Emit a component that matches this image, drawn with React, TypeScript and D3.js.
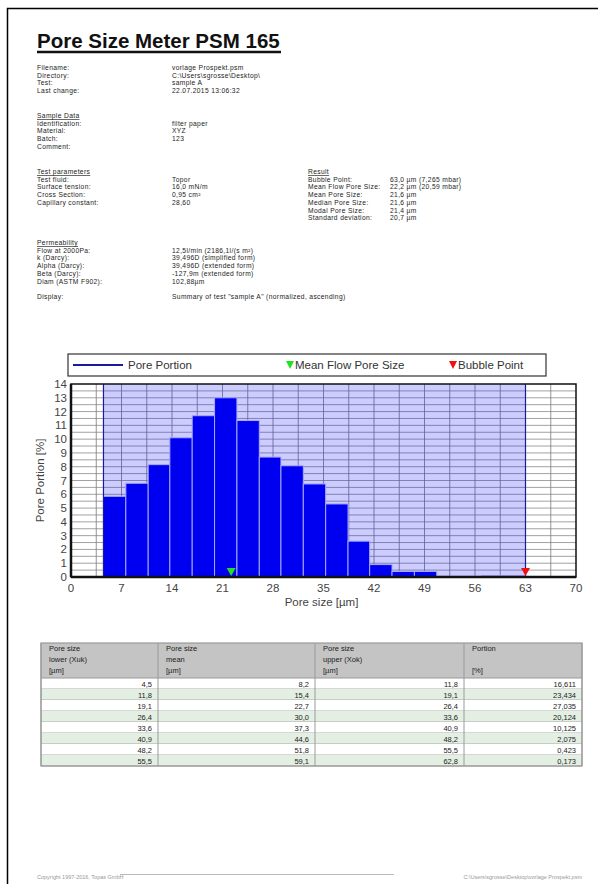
import React, { useEffect, useRef } from "react";
import * as d3 from "d3";

// header info (label / value)
const fileLabels = ["Filename:", "Directory:", "Test:", "Last change:"];
const fileValues = ["vorlage Prospekt.psm", "C:\\Users\\sgrosse\\Desktop\\", "sample A", "22.07.2015 13:06:32"];
const sampleLabels = ["Identification:", "Material:", "Batch:", "Comment:"];
const sampleValues = ["filter paper", "XYZ", "123", ""];
const paramLabels = ["Test fluid:", "Surface tension:", "Cross Section:", "Capillary constant:"];
const paramValues = ["Topor", "16,0 mN/m", "0,95 cm²", "28,60"];
const resultLabels = ["Bubble Point:", "Mean Flow Pore Size:", "Mean Pore Size:", "Median Pore Size:", "Modal Pore Size:", "Standard deviation:"];
const resultValues = ["63,0 µm (7,265 mbar)", "22,2 µm (20,59 mbar)", "21,6 µm", "21,6 µm", "21,4 µm", "20,7 µm"];
const permLabels = ["Flow at 2000Pa:", "k (Darcy):", "Alpha (Darcy):", "Beta (Darcy):", "Diam (ASTM F902):"];
const permValues = ["12,5l/min  (2186,1l/(s m²)", "39,496D (simplified form)", "39,496D (extended form)", "-127,9m (extended form)", "102,88µm"];

// histogram
const binLower = [4.5, 7.6, 10.7, 13.7, 16.8, 19.9, 23.0, 26.1, 29.1, 32.2, 35.3, 38.4, 41.4, 44.5, 47.6, 50.7, 53.8, 56.9, 59.9];
const binUpper = [7.6, 10.7, 13.7, 16.8, 19.9, 23.0, 26.1, 29.1, 32.2, 35.3, 38.4, 41.4, 44.5, 47.6, 50.7, 53.8, 56.9, 59.9, 63.0];
const portions = [5.85, 6.8, 8.15, 10.1, 11.7, 13.0, 11.35, 8.7, 8.07, 6.75, 5.3, 2.6, 0.9, 0.4, 0.4, 0.05, 0.05, 0.1, 0.1];
const xTicks = [0, 7, 14, 21, 28, 35, 42, 49, 56, 63, 70];
const yTicks = [0, 1, 2, 3, 4, 5, 6, 7, 8, 9, 10, 11, 12, 13, 14];
const meanFlowPoreSize = 22.2;
const bubblePoint = 63.0;
const poreMin = 4.5;

// table
const tableHeaders = [
  ["Pore size", "lower (Xuk)", "[µm]"],
  ["Pore size", "mean", "[µm]"],
  ["Pore size", "upper (Xok)", "[µm]"],
  ["Portion", "", "[%]"],
];
const tableLower = ["4,5", "11,8", "19,1", "26,4", "33,6", "40,9", "48,2", "55,5"];
const tableMean = ["8,2", "15,4", "22,7", "30,0", "37,3", "44,6", "51,8", "59,1"];
const tableUpper = ["11,8", "19,1", "26,4", "33,6", "40,9", "48,2", "55,5", "62,8"];
const tablePortion = ["16,611", "23,434", "27,035", "20,124", "10,125", "2,075", "0,423", "0,173"];

const FONT = "'Liberation Sans', Arial, sans-serif";

const App = () => {
  const ref = useRef<HTMLDivElement>(null);

  useEffect(() => {
    const width = 598;
    const height = 884;
    d3.select(ref.current).selectAll("*").remove();

    const svg = d3
      .select(ref.current)
      .append("svg")
      .attr("width", width)
      .attr("height", height)
      .style("position", "absolute")
      .style("left", "0px")
      .style("top", "0px")
      .style("font-family", FONT);

    svg.append("rect").attr("width", width).attr("height", height).attr("fill", "#fff");

    // page border
    svg.append("path").attr("d", "M7.5,884 V8.5 H598").attr("fill", "none").attr("stroke", "#000").attr("stroke-width", 1.5);

    // title
    svg.append("text").attr("x", 37).attr("y", 48).attr("font-size", 20.5).attr("font-weight", "bold").attr("fill", "#111")
      .text("Pore Size Meter PSM 165");
    svg.append("line").attr("x1", 37).attr("x2", 281).attr("y1", 52).attr("y2", 52).attr("stroke", "#111").attr("stroke-width", 2.5);

    // info blocks
    const LH = 7.7;
    const small = (x0: number, y0: number, t: string) =>
      svg.append("text").attr("x", x0).attr("y", y0).attr("font-size", 6.7).attr("letter-spacing", 0.35)
        .attr("fill", "#222").text(t);
    const block = (x1: number, x2: number, y0: number, labels: string[], values: string[], heading?: string) => {
      let y = y0;
      if (heading) {
        small(x1, y, heading).attr("text-decoration", "underline");
        y += LH;
      }
      labels.forEach((l, i) => {
        small(x1, y + i * LH, l);
        if (values[i]) small(x2, y + i * LH, values[i]);
      });
    };
    block(37, 172, 70, fileLabels, fileValues);
    block(37, 172, 118, sampleLabels, sampleValues, "Sample Data");
    block(37, 172, 174, paramLabels, paramValues, "Test parameters");
    block(308, 390, 174, resultLabels, resultValues, "Result");
    block(37, 172, 245, permLabels, permValues, "Permeability");
    block(37, 172, 299, ["Display:"], ['Summary of test "sample A" (normalized, ascending)']);

    // chart
    const plot = { left: 71, right: 576, top: 384, bottom: 577 };
    const x = d3.scaleLinear().domain([0, 70]).range([plot.left, plot.right]);
    const y = d3.scaleLinear().domain([0, 14]).range([plot.bottom, plot.top]);

    const grid = svg.append("g");
    grid.selectAll("line.h").data(d3.range(0.5, 14, 0.5)).join("line")
      .attr("x1", plot.left).attr("x2", plot.right).attr("y1", (d) => y(d)).attr("y2", (d) => y(d))
      .attr("stroke", "#8a8a8a").attr("stroke-width", 0.8);
    grid.selectAll("line.v").data(d3.range(3.5, 70, 3.5)).join("line")
      .attr("x1", (d) => x(d)).attr("x2", (d) => x(d)).attr("y1", plot.top).attr("y2", plot.bottom)
      .attr("stroke", "#7a7a7a").attr("stroke-width", 0.8);

    // shaded range
    svg.append("rect").attr("x", x(poreMin)).attr("y", plot.top).attr("width", x(bubblePoint) - x(poreMin))
      .attr("height", plot.bottom - plot.top).attr("fill", "#0000ff").attr("fill-opacity", 0.2);

    // bars
    svg.append("g").selectAll("rect").data(portions).join("rect")
      .attr("x", (_, i) => x(binLower[i]))
      .attr("width", (_, i) => x(binUpper[i]) - x(binLower[i]))
      .attr("y", (d) => y(d))
      .attr("height", (d) => plot.bottom - y(d))
      .attr("fill", "#0000f0")
      .attr("stroke", "#a8a8ff")
      .attr("stroke-width", 1);

    [poreMin, bubblePoint].forEach((v) => {
      svg.append("line").attr("x1", x(v)).attr("x2", x(v)).attr("y1", plot.top).attr("y2", plot.bottom)
        .attr("stroke", "#1a1a9a").attr("stroke-width", 1.2);
    });

    // frame
    svg.append("rect").attr("x", plot.left).attr("y", plot.top).attr("width", plot.right - plot.left)
      .attr("height", plot.bottom - plot.top).attr("fill", "none").attr("stroke", "#111").attr("stroke-width", 1.5);
    svg.append("line").attr("x1", plot.left).attr("x2", plot.right).attr("y1", plot.bottom).attr("y2", plot.bottom)
      .attr("stroke", "#111").attr("stroke-width", 2.5);
    svg.append("line").attr("x1", plot.left).attr("x2", plot.left).attr("y1", plot.top).attr("y2", plot.bottom)
      .attr("stroke", "#111").attr("stroke-width", 2.5);

    const tri = (cx: number, tipY: number, color: string) =>
      svg.append("path")
        .attr("d", `M${cx - 4.5},${tipY - 8} L${cx + 4.5},${tipY - 8} L${cx},${tipY} Z`)
        .attr("fill", color);
    tri(x(meanFlowPoreSize), plot.bottom - 1, "#22e022");
    tri(x(bubblePoint), plot.bottom - 1, "#ee1111");

    // axes labels
    svg.append("g").selectAll("text").data(yTicks).join("text")
      .attr("x", plot.left - 4).attr("y", (d) => y(d) + 4).attr("text-anchor", "end")
      .attr("font-size", 11.5).attr("fill", "#444").text((d) => d);
    svg.append("g").selectAll("text").data(xTicks).join("text")
      .attr("x", (d) => x(d)).attr("y", plot.bottom + 15).attr("text-anchor", "middle")
      .attr("font-size", 11.5).attr("fill", "#444").text((d) => d);
    svg.append("text").attr("transform", `translate(44,${(plot.top + plot.bottom) / 2}) rotate(-90)`)
      .attr("text-anchor", "middle").attr("font-size", 11.5).attr("fill", "#444").text("Pore Portion [%]");
    svg.append("text").attr("x", (plot.left + plot.right) / 2 - 2).attr("y", plot.bottom + 29)
      .attr("text-anchor", "middle").attr("font-size", 11.5).attr("fill", "#444").text("Pore size [µm]");

    // legend
    const lg = svg.append("g");
    lg.append("rect").attr("x", 68).attr("y", 354).attr("width", 478).attr("height", 22)
      .attr("fill", "#fff").attr("stroke", "#333").attr("stroke-width", 1.2);
    lg.append("line").attr("x1", 73).attr("x2", 123).attr("y1", 365).attr("y2", 365)
      .attr("stroke", "#1a1a9a").attr("stroke-width", 2);
    lg.append("text").attr("x", 128).attr("y", 369).attr("font-size", 11.5).attr("fill", "#333").text("Pore Portion");
    lg.append("path").attr("d", "M286,361 L294,361 L290,369 Z").attr("fill", "#22e022");
    lg.append("text").attr("x", 295).attr("y", 369).attr("font-size", 11.5).attr("fill", "#333").text("Mean Flow Pore Size");
    lg.append("path").attr("d", "M449,361 L457,361 L453,369 Z").attr("fill", "#ee1111");
    lg.append("text").attr("x", 458).attr("y", 369).attr("font-size", 11.5).attr("fill", "#333").text("Bubble Point");

    // table
    const colX = [41, 158, 315, 464, 582];
    const headTop = 643;
    const headBottom = 678;
    const rowH = 11;
    const tbl = svg.append("g");
    tbl.append("rect").attr("x", colX[0]).attr("y", headTop).attr("width", colX[4] - colX[0])
      .attr("height", headBottom - headTop).attr("fill", "#c4c4c4");
    const cols = [tableLower, tableMean, tableUpper, tablePortion];
    tableLower.forEach((_, r) => {
      tbl.append("rect").attr("x", colX[0]).attr("y", headBottom + r * rowH).attr("width", colX[4] - colX[0])
        .attr("height", rowH).attr("fill", r % 2 === 0 ? "#fff" : "#e3efe3");
      tbl.append("line").attr("x1", colX[0]).attr("x2", colX[4])
        .attr("y1", headBottom + (r + 1) * rowH).attr("y2", headBottom + (r + 1) * rowH)
        .attr("stroke", "#9a9a9a").attr("stroke-width", 0.8);
      cols.forEach((c, ci) => {
        tbl.append("text").attr("x", colX[ci + 1] - 6).attr("y", headBottom + r * rowH + 8.5)
          .attr("text-anchor", "end").attr("font-size", 7.5).attr("fill", "#222").text(c[r]);
      });
    });
    tableHeaders.forEach((h, ci) => {
      h.forEach((t, li) => {
        if (!t) return;
        tbl.append("text").attr("x", colX[ci] + 8).attr("y", headTop + 8 + li * 11)
          .attr("font-size", 7.5).attr("fill", "#222").text(t);
      });
    });
    colX.forEach((cx) => {
      tbl.append("line").attr("x1", cx).attr("x2", cx).attr("y1", headTop).attr("y2", headBottom + 8 * rowH)
        .attr("stroke", "#9a9a9a").attr("stroke-width", 1);
    });
    tbl.append("rect").attr("x", colX[0]).attr("y", headTop).attr("width", colX[4] - colX[0])
      .attr("height", headBottom - headTop + 8 * rowH).attr("fill", "none").attr("stroke", "#9a9a9a").attr("stroke-width", 1.2);
    tbl.append("line").attr("x1", colX[0]).attr("x2", colX[4]).attr("y1", headBottom).attr("y2", headBottom)
      .attr("stroke", "#9a9a9a").attr("stroke-width", 1);

    // footer
    svg.append("line").attr("x1", 120).attr("x2", 394).attr("y1", 874.5).attr("y2", 874.5)
      .attr("stroke", "#bbb").attr("stroke-width", 1);
    svg.append("text").attr("x", 37).attr("y", 879).attr("font-size", 5.5).attr("fill", "#999")
      .text("Copyright 1997-2016, Topas GmbH");
    svg.append("text").attr("x", 582).attr("y", 879).attr("text-anchor", "end").attr("font-size", 5.5).attr("fill", "#999")
      .text("C:\\Users\\sgrosse\\Desktop\\vorlage Prospekt.psm");
  }, []);

  return <div ref={ref}></div>;
};

export default App;
